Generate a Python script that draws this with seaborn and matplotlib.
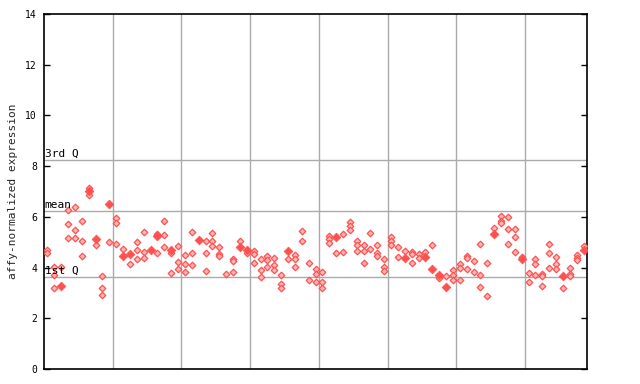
import pandas as pd
import seaborn as sns
import matplotlib.pyplot as plt
import matplotlib.transforms as mtransforms

# expression values per sample column
sample_values = [
    [4.68, 4.58], [4.01, 3.72, 3.21], [4.03, 3.28], [6.28, 5.72, 5.15],
    [6.39, 5.47, 5.15], [5.84, 5.05, 4.44], [7.14, 7.03, 6.87], [5.11, 4.88],
    [3.65, 3.19, 2.92], [6.49, 5.0], [5.94, 5.74, 4.91], [4.72, 4.47],
    [4.53, 4.13], [5.0, 4.68, 4.34], [5.39, 4.61, 4.36], [4.71],
    [5.32, 5.23, 4.56], [5.82, 5.27, 4.8], [4.69, 4.56, 3.77], [4.85, 4.22, 3.93],
    [4.48, 4.13, 3.81], [5.39, 4.56, 4.09], [5.09], [5.05, 4.56, 3.85],
    [5.35, 5.05, 4.84], [4.8, 4.52, 4.44], [3.74], [4.32, 4.25, 3.81],
    [5.05, 4.81], [4.71, 4.56], [4.65, 4.52, 4.2], [4.32, 3.9, 3.62],
    [4.44, 4.29, 4.01], [4.36, 4.09, 3.9], [3.69, 3.34, 3.18], [4.67, 4.32],
    [4.51, 4.32, 4.01], [5.43, 5.05], [4.2, 3.5], [3.93, 3.73, 3.45],
    [3.81, 3.45, 3.18], [5.23, 5.11, 4.95], [5.2, 4.56], [5.31, 4.6],
    [5.78, 5.62, 5.47], [5.05, 4.88, 4.67], [4.88, 4.64, 4.2], [5.35, 4.72],
    [4.88, 4.56, 4.46], [4.32, 4.01, 3.85], [5.19, 5.03, 4.88], [4.8, 4.4],
    [4.67, 4.36], [4.6, 4.52, 4.2], [4.52, 4.36], [4.6, 4.43],
    [4.88, 3.96], [3.72, 3.6], [3.65, 3.23], [3.9, 3.69, 3.5],
    [4.13, 3.97, 3.5], [4.44, 4.36, 3.93], [4.25, 3.81], [4.92, 3.69, 3.22],
    [4.2, 2.87], [5.55, 5.31], [6.02, 5.82, 5.74], [5.98, 5.51, 4.92],
    [5.51, 5.19, 4.6], [4.4, 4.32], [3.77, 3.42], [4.32, 4.13, 3.69],
    [3.73, 3.65, 3.26], [4.92, 4.56, 3.97], [4.4, 4.13, 3.93], [3.68, 3.18],
    [3.97, 3.73, 3.65], [4.48, 4.36, 4.29], [4.84, 4.68],
]
# (sample, value) pairs drawn as solid diamonds
solid_points = [
    (2, 3.28), (6, 7.03), (7, 5.11), (9, 6.49), (11, 4.47), (12, 4.53),
    (15, 4.71), (16, 5.23), (18, 4.69), (22, 5.09), (28, 4.81), (29, 4.71),
    (35, 4.67), (42, 5.2), (52, 4.36), (55, 4.43), (56, 3.96), (57, 3.72),
    (58, 3.23), (65, 5.31), (69, 4.32), (75, 3.68), (78, 4.68),
]
quartiles = {'3rd Q': 8.23, 'mean': 6.23, '1st Q': 3.63}
y_ticks = [0, 2, 4, 6, 8, 10, 12, 14]

rows = []
for i, vals in enumerate(sample_values):
    for v in vals:
        rows.append({'x': i + 0.5, 'value': v, 'solid': (i, v) in solid_points})
df = pd.DataFrame(rows)

red = '#ff5050'
grid = '#aaaaaa'

sns.set_style('white')
plt.rcParams['font.family'] = ['DejaVu Sans Mono']

fig = plt.figure(figsize=(6.4, 3.84), dpi=100)
ax = fig.add_axes([44 / 640, 15 / 384, 543 / 640, 355 / 384])

for xv in range(10, 80, 10):
    ax.axvline(xv, color=grid, lw=1, zorder=1)
for label, q in quartiles.items():
    ax.axhline(q, color=grid, lw=1, zorder=1)

sns.scatterplot(data=df[~df['solid']], x='x', y='value', marker='D', s=11,
                facecolor='#ffb8b8', edgecolor=red, linewidth=0.9, ax=ax, zorder=3)
sns.scatterplot(data=df[df['solid']], x='x', y='value', marker='D', s=20,
                color=red, edgecolor=red, linewidth=0.5, ax=ax, zorder=4)

trans = mtransforms.blended_transform_factory(ax.transAxes, ax.transData)
for label, q in quartiles.items():
    ax.text(0.001, q + 0.05, label, transform=trans, fontsize=8,
            va='bottom', ha='left', color='black', zorder=5)

ax.set_xlim(0, 79)
ax.set_ylim(0, 14)
ax.set_xticks([])
ax.set_yticks(y_ticks)
ax.set_yticklabels([str(t) for t in y_ticks], fontsize=7)
ax.tick_params(axis='y', direction='in', length=4, width=1, pad=5,
               left=True, right=True, colors='black')
ax.set_xlabel('')
ax.set_ylabel('affy-normalized expression', fontsize=8, labelpad=5)
for sp in ax.spines.values():
    sp.set_color('black')
    sp.set_linewidth(1.2)
    sp.set_visible(True)

fig.savefig('out.png', dpi=100)
